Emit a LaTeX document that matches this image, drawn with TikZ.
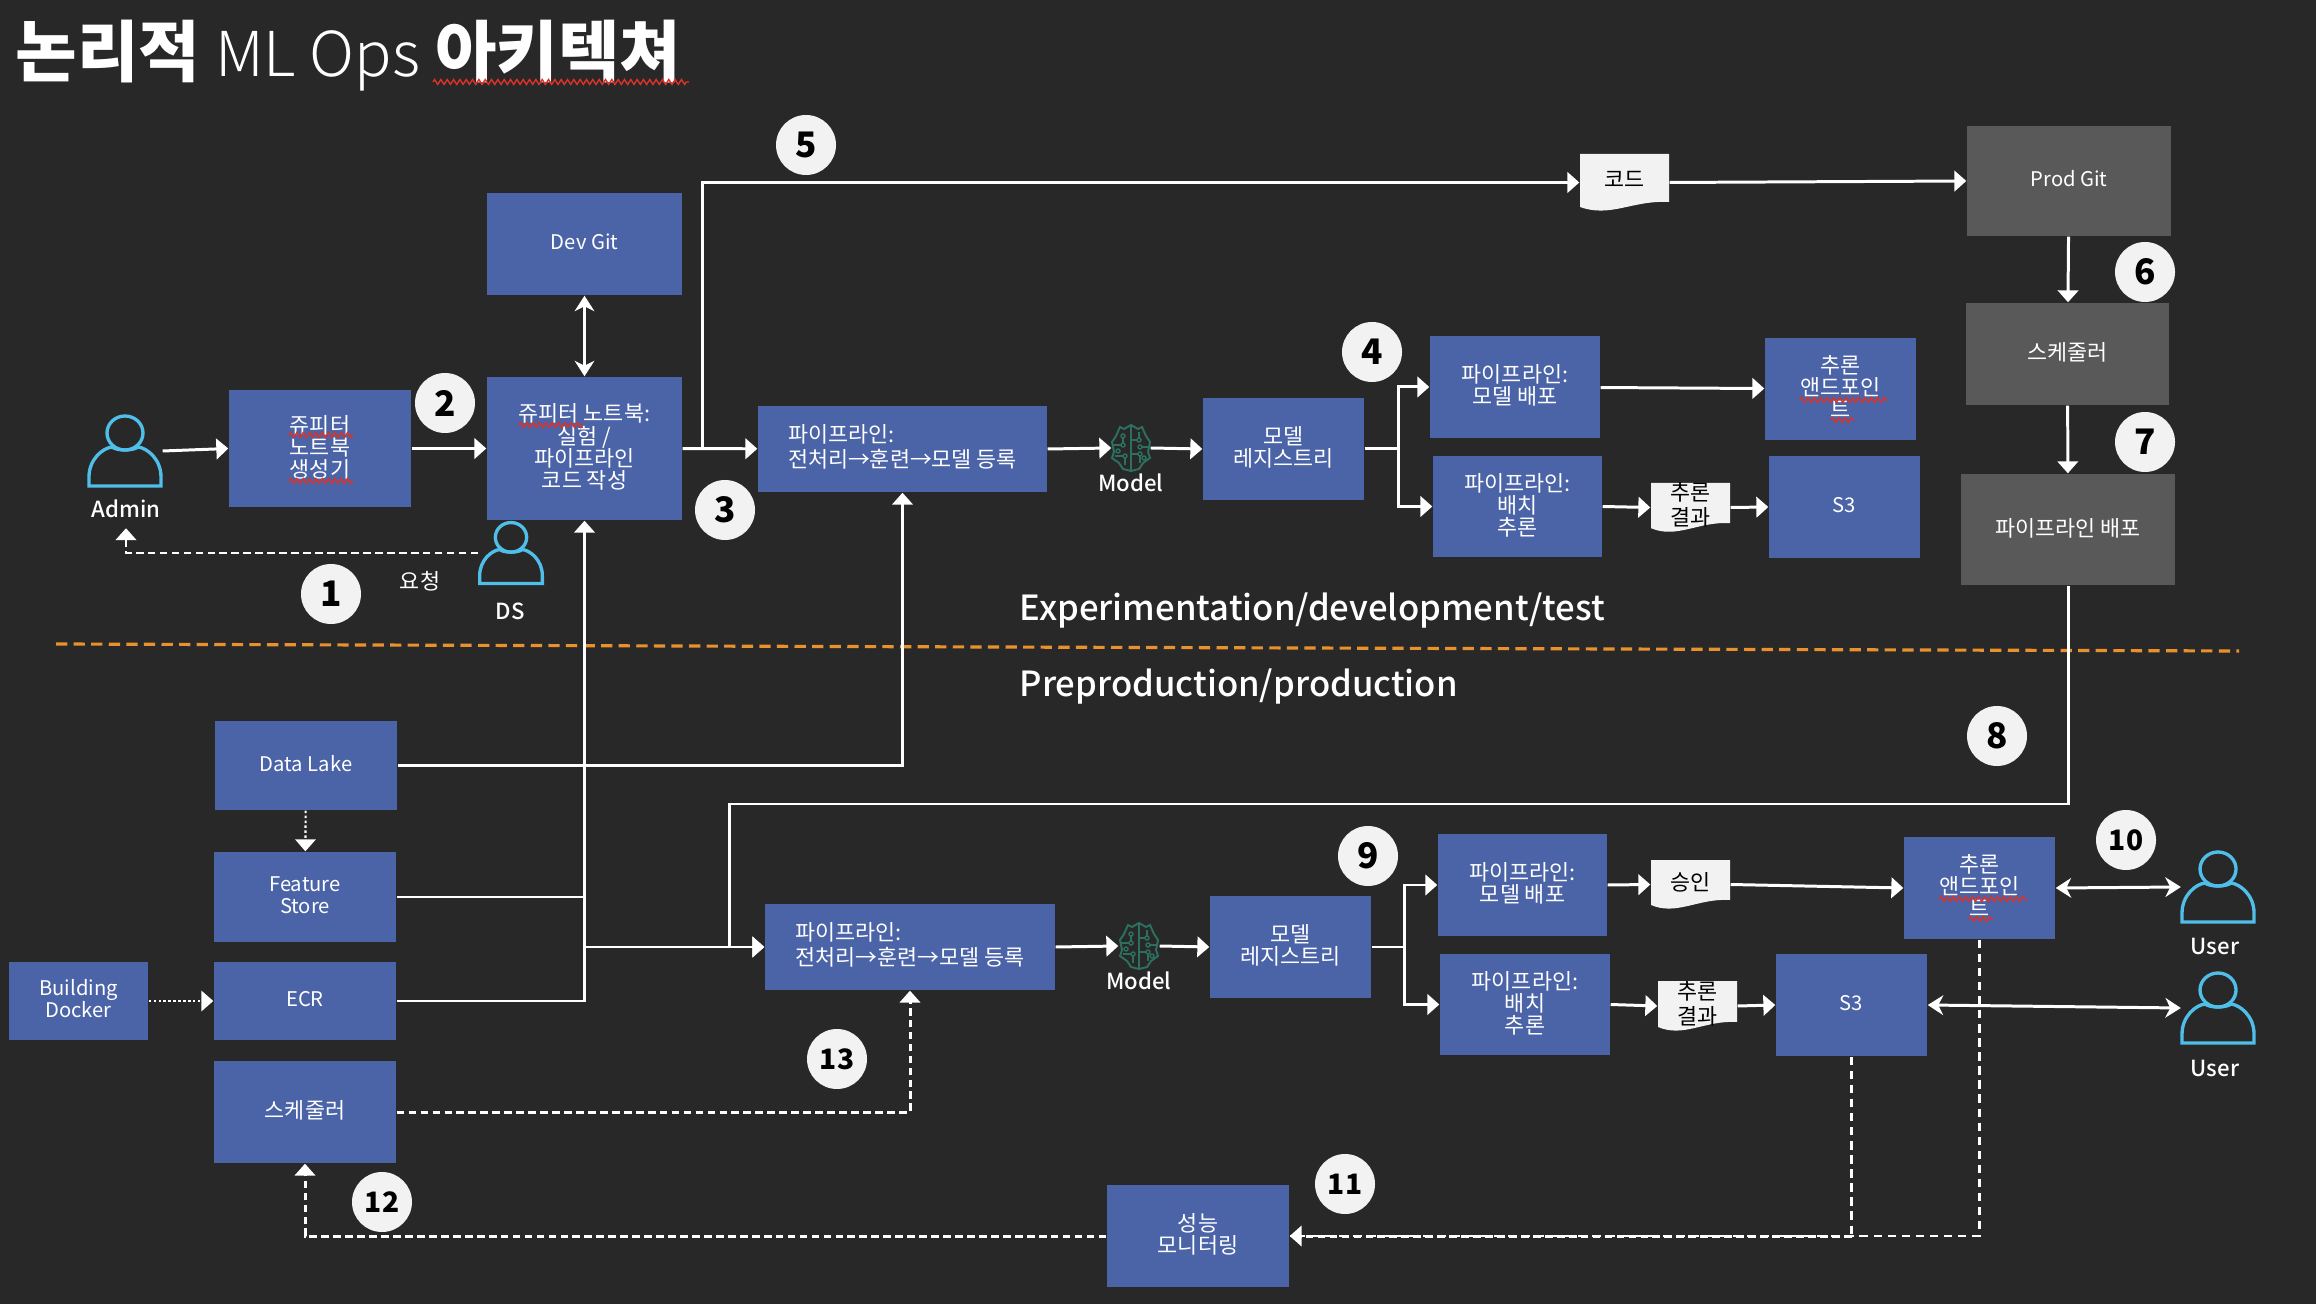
\documentclass[tikz,border=0pt]{standalone}
\usepackage{fontspec}
\setmainfont{Noto Sans CJK KR}
\newfontfamily\krlight{Noto Sans CJK KR Light}
\newfontfamily\krmedium{Noto Sans CJK KR Medium}
\newfontfamily\krblack{Noto Sans CJK KR Black}
\usepackage{xcolor}
\usetikzlibrary{arrows.meta, positioning, calc, decorations.pathmorphing}
\definecolor{slide}{RGB}{40,40,40}
\definecolor{bluebox}{RGB}{75,99,167}
\definecolor{greybox}{RGB}{89,89,89}
\definecolor{paper}{RGB}{242,242,242}
\definecolor{cyanline}{RGB}{79,190,232}
\definecolor{brainline}{RGB}{44,112,96}
\definecolor{orangeline}{RGB}{232,145,45}
\definecolor{squigred}{RGB}{220,50,40}
\def\ppb{path picture bounding box}
\newcommand{\lifted}[1]{\raisebox{1.85pt}{\begin{tabular}{@{}c@{}}#1\end{tabular}}}

\tikzset{
  sz/.style 2 args={minimum width=#1*0.01cm, minimum height=#2*0.01cm},
  bx/.style={fill=bluebox, text=white, align=center, inner sep=0pt,
             font=\fontsize{6.2}{6.3}\selectfont,
             execute at end node={\rule[-1.3pt]{0pt}{0pt}}},
  lat/.style={font=\fontsize{5.75}{6.3}\selectfont},
  gb/.style={bx, fill=greybox},
  docbox/.style={inner sep=0pt, text=black, font=\fontsize{6.2}{6.3}\selectfont,
    path picture={\fill[paper] (\ppb.north west) -- (\ppb.north east)
      -- ($(\ppb.south east)+(0,-9)$)
      .. controls ($(\ppb.south)+(8,-11)$) and ($(\ppb.south)+(-14,7)$) .. ($(\ppb.south west)+(0,-4)$) -- cycle;}},
  badge/.style={circle, fill=paper, text=black, inner sep=0pt, minimum size=60*0.01cm,
                font=\krblack\fontsize{10}{10}\selectfont},
  badgesm/.style={badge, font=\krblack\fontsize{8}{8}\selectfont},
  tag/.style={text=white, inner sep=1pt, font=\krmedium\fontsize{6.3}{7}\selectfont},
  zone/.style={text=white, inner sep=0pt, anchor=west, font=\krmedium\fontsize{9.85}{12}\selectfont},
  ln/.style={white, line width=0.85pt},
  a/.style={ln, -{Triangle[length=3.4pt, width=5.8pt]}},
  aa/.style={ln, {Stealth[length=4.4pt, width=5.6pt, inset=1.4pt]}-{Stealth[length=4.4pt, width=5.6pt, inset=1.4pt]}},
  da/.style={a, dash pattern=on 2.2pt off 1.2pt},
  ta/.style={a, line width=0.6pt, dash pattern=on 0.7pt off 0.7pt},
  dl/.style={ln, line width=0.6pt, dash pattern=on 2.4pt off 1.6pt},
  squig/.style={draw=squigred, line width=0.4pt, decorate,
                decoration={zigzag, segment length=1.8pt, amplitude=0.7pt}},
  person/.pic={
    \draw[cyanline, line width=0.95pt] (0,-18) circle [x radius=18, y radius=17];
    \draw[cyanline, line width=0.95pt] (-36,35) -- (-36,26)
      .. controls (-36,8) and (-22,-3) .. (-13,-4) .. controls (-8,0) and (8,0) .. (13,-4)
      .. controls (22,-3) and (36,8) .. (36,26) -- (36,35) -- cycle;
  },
  brain/.pic={
    \draw[brainline, line width=0.55pt] (0,-23) -- (-7,-19) -- (-11,-21) -- (-15,-12) -- (-19,-6) -- (-17,4)
      -- (-19,10) -- (-12,15) -- (-8,21) -- (0,23) -- (8,21) -- (12,15) -- (19,10) -- (17,4)
      -- (19,-6) -- (15,-12) -- (11,-21) -- (7,-19) -- cycle;
    \draw[brainline, line width=0.45pt] (0,-23) -- (0,23) (-19,-3) -- (-8,-3) -- (-8,-12)
      (-16,8) -- (-6,8) -- (-6,17) (0,-8) -- (8,-8) -- (8,-16) (0,6) -- (9,6) -- (9,15) (9,-1) -- (18,-1);
    \foreach \cx/\cy in {-8/-12,-8/-3,-6/8,8/-8,9/6,9/-1,-13/3,13/10}
      \draw[brainline, line width=0.4pt, fill=slide] (\cx,\cy) circle [radius=2];
  }
}

\begin{document}
\begin{tikzpicture}[x=0.01cm, y=-0.01cm]
\path[use as bounding box, fill=slide] (0,0) rectangle (2316,1304);

\node[inner sep=0pt, anchor=base west, text=white, font=\fontsize{19}{20}\selectfont] (title) at (15,77)
  {\textbf{논리적} {\krlight\fontsize{17.6}{20}\selectfont ML Ops} \textbf{아키텍쳐}};
\draw[squig] (433,82) -- (689,82);

\node[bx, lat, sz={195}{102}] (devg) at (584.5,244) {Dev Git};
\node[bx, sz={182}{117}] (gen) at (320,448.5) {쥬피터\\노트북\\생성기};
\node[bx, sz={195}{143}] (nb) at (584.5,448.5) {쥬피터 노트북:\\실험 /\\파이프라인\\코드 작성};
\node[bx, sz={289}{86}] (pl1) at (902.5,449) {\begin{tabular}{@{}l@{}}파이프라인:\\전처리→훈련→모델 등록\end{tabular}};
\node[bx, sz={161}{102}] (reg1) at (1283.5,449) {모델\\레지스트리};
\node[bx, sz={170}{102}] (dep1) at (1515,387) {파이프라인:\\모델 배포};
\node[bx, sz={169}{101}] (bat1) at (1517.5,506.5) {파이프라인:\\배치\\추론};
\node[bx, sz={151}{102}] (ep1) at (1840.5,389) {추론\\앤드포인\\트};
\node[bx, lat, sz={151}{102}] (s31) at (1844.5,507) {S3};
\node[gb, lat, sz={204}{110}] (prodg) at (2069,181) {Prod Git};
\node[gb, sz={203}{102}] (sch1) at (2067.5,354) {스케줄러};
\node[gb, sz={214}{111}] (depl) at (2068,529.5) {파이프라인 배포};

\node[bx, lat, sz={182}{89}] (dl) at (306,765.5) {Data Lake};
\node[bx, lat, sz={182}{90}] (fs) at (305,897) {Feature\\Store};
\node[bx, lat, sz={139}{78}] (bd) at (78.5,1001) {Building\\Docker};
\node[bx, lat, sz={182}{78}] (ecr) at (305,1001) {ECR};
\node[bx, sz={182}{102}] (sch2) at (305,1112) {스케줄러};
\node[bx, sz={290}{86}] (pl2) at (910,947) {\begin{tabular}{@{}l@{}}파이프라인:\\전처리→훈련→모델 등록\end{tabular}};
\node[bx, sz={161}{102}] (reg2) at (1290.5,947) {모델\\레지스트리};
\node[bx, sz={169}{102}] (dep2) at (1522.5,885) {파이프라인:\\모델 배포};
\node[bx, sz={170}{101}] (bat2) at (1525,1004.5) {파이프라인:\\배치\\추론};
\node[bx, sz={151}{102}] (ep2) at (1979.5,888) {추론\\앤드포인\\트};
\node[bx, lat, sz={151}{102}] (s32) at (1851.5,1005) {S3};
\node[bx, sz={182}{102}] (mon) at (1198,1236) {성능\\모니터링};

\node[docbox, sz={89}{57}] (code) at (1624.5,182.5) {\lifted{코드}};
\node[docbox, sz={79}{49}] (res1) at (1690.5,507.5) {\lifted{추론\\결과}};
\node[docbox, sz={79}{49}] (appr) at (1690.5,884.5) {\lifted{승인}};
\node[docbox, sz={79}{50}] (res2) at (1697.5,1006) {\lifted{추론\\결과}};

\node[sz={74}{68}, inner sep=0pt] (admin) at (125,451) {};
\node[sz={64}{61}, inner sep=0pt] (ds) at (511,553) {};
\node[sz={73}{70}, inner sep=0pt] (usr1) at (2218,887) {};
\node[sz={73}{70}, inner sep=0pt] (usr2) at (2218,1008) {};
\node[sz={38}{46}, inner sep=0pt] (brn1) at (1131,448) {};
\node[sz={40}{46}, inner sep=0pt] (brn2) at (1139,946) {};
\pic at (admin) {person};
\pic[scale=0.87] at (ds) {person};
\pic at (usr1) {person};
\pic at (usr2) {person};
\pic at (brn1) {brain};
\pic at (brn2) {brain};

\node[tag] (adminl) at (126,509) {Admin};
\node[tag] (dsl) at (510,611) {DS};
\node[tag] (usr1l) at (2215,946) {User};
\node[tag] (usr2l) at (2215,1068) {User};
\node[tag] (brn1l) at (1131,483) {Model};
\node[tag] (brn2l) at (1139,981) {Model};
\node[text=white, inner sep=0pt, font=\fontsize{6.2}{7}\selectfont] (reqs) at (420,581) {요청};

\node[zone] (devz) at (1019,611) {Experimentation/development/test};
\node[zone] (prdz) at (1019,687) {Preproduction/production};
\coordinate (sepl) at (56,644);
\coordinate (sepr) at (2239,651);
\draw[orangeline, line width=0.9pt, dash pattern=on 3.2pt off 1.8pt] (sepl) -- (sepr);

\draw[squig] (289,435) -- (353,435);
\draw[squig] (289,481) -- (353,481);
\draw[squig] (519,425) -- (583,425);
\draw[squig] (1800,400) -- (1888,400);
\draw[squig] (1831,420) -- (1854,420);
\draw[squig] (1939,899) -- (2027,899);
\draw[squig] (1969,919) -- (1993,919);

\draw[a] (admin.east) -- (gen.west);
\draw[a] (gen) -- (nb);
\draw[aa] (devg) -- (nb);
\draw[a] (nb) -- (pl1);
\coordinate (up5) at (702,449);
\draw[a] (up5) |- (code.west);
\draw[a] (code.east) -- (prodg.west);
\draw[a] (prodg) -- (sch1);
\draw[a] (sch1) -- (depl);
\coordinate (rail) at (729,804);
\draw[a] (depl.south) |- (rail) |- (pl2.west);
\draw[a] (pl1.east) -- (brn1.west);
\draw[a] (brn1.east) -- (reg1.west);
\coordinate (split1) at (1398,449);
\draw[ln] (reg1.east) -- (split1);
\draw[a] (split1) |- (dep1.west);
\draw[a] (split1) |- (bat1.west);
\draw[a] (dep1) -- (ep1);
\draw[a] (bat1.east) -- (res1.west);
\draw[a] (res1.east) -- (s31.west);

\draw[ta] (dl) -- (fs);
\draw[ta] (bd) -- (ecr);
\draw[a] (ecr.east) -| (nb.south);
\draw[ln] (fs.east) -- (fs.east -| nb.south);
\draw[a] (dl.east) -| (pl1.south);
\draw[a] (pl2.west -| nb.south) -- (pl2.west);
\draw[a] (pl2.east) -- (brn2.west);
\draw[a] (brn2.east) -- (reg2.west);
\coordinate (split2) at (1404,947);
\draw[ln] (reg2.east) -- (split2);
\draw[a] (split2) |- (dep2.west);
\draw[a] (split2) |- (bat2.west);
\draw[a] (dep2.east) -- (appr.west);
\draw[a] (appr.east) -- (ep2.west);
\draw[a] (bat2.east) -- (res2.west);
\draw[a] (res2.east) -- (s32.west);
\draw[aa] (ep2.east) -- (usr1.west);
\draw[aa] (s32.east) -- (usr2.west);

\draw[da, shorten >=6*0.01cm] (ds.west) -| (adminl.south);
\draw[dl] (ep2.south) |- (mon.east);
\draw[dl] (s32.south) -- (s32.south |- mon.east);
\draw[da] (mon.east -| s32.south) -- (mon.east);
\draw[da] (mon.west) -| (sch2.south);
\draw[da] (sch2.east) -| (pl2.south);

\node[badge] (n1) at (331,594) {1};
\node[badge] (n2) at (445,403) {2};
\node[badge] (n3) at (725,510) {3};
\node[badge] (n4) at (1372,352) {4};
\node[badge] (n5) at (806,145) {5};
\node[badge] (n6) at (2145,272) {6};
\node[badge] (n7) at (2145,442) {7};
\node[badge] (n8) at (1997,736) {8};
\node[badge] (n9) at (1368,856) {9};
\node[badgesm] (n10) at (2126,840) {10};
\node[badgesm] (n11) at (1345,1184) {11};
\node[badgesm] (n12) at (382,1202) {12};
\node[badgesm] (n13) at (837,1059) {13};
\end{tikzpicture}
\end{document}
